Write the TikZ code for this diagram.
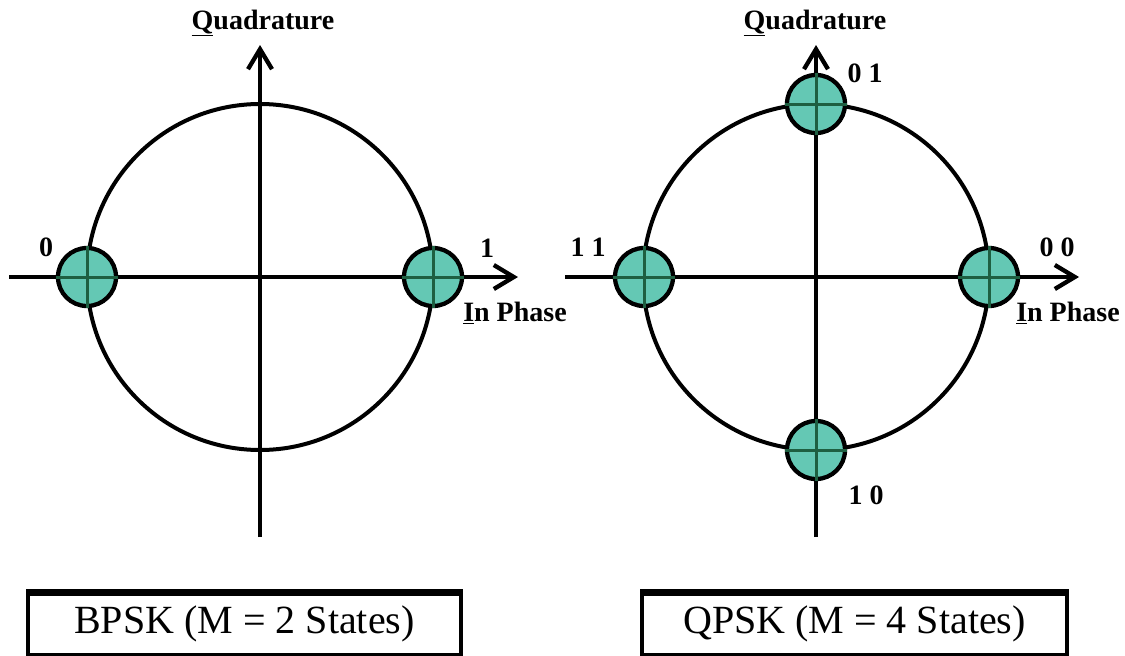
\documentclass[tikz,border=0pt]{standalone}
\usepackage{fontspec}
\setmainfont{Liberation Serif}
\usetikzlibrary{arrows.meta}
\definecolor{ptfill}{RGB}{100,200,180}
\definecolor{ptcross}{RGB}{30,95,65}
\begin{document}
\begin{tikzpicture}[x=1pt,y=-1pt,
  axis/.style={line width=4.3pt,-{Straight Barb[length=20pt,width=24pt,line width=4.3pt]}},
  ring/.style={line width=4pt},
  pt/.style={circle,draw=black,line width=4.3pt,fill=ptfill,minimum size=58pt,inner sep=0pt},
  crossline/.style={draw=ptcross,line width=3pt},
  lbl/.style={font=\fontsize{28}{30}\selectfont\bfseries,inner sep=0pt},
  titlebox/.style={draw,line width=4pt,minimum width=433pt,minimum height=61pt,inner sep=0pt,font=\fontsize{40}{44}\selectfont}]
\useasboundingbox (0,0) rectangle (1125,656);
\fill[white] (0,0) rectangle (1125,656);

% ---------- BPSK ----------
\coordinate (cL) at (260,277);
\coordinate (hLs) at (9,277);
\coordinate (hLe) at (518,277);
\coordinate (vLs) at (260,537);
\coordinate (vLe) at (260,45);
\draw[axis] (hLs) -- (hLe);
\draw[axis] (vLs) -- (vLe);
\draw[ring] (cL) circle[radius=173pt];
\node[pt] (pL0) at (87,277) {};
\node[pt] (pL1) at (433,277) {};
\foreach \p in {pL0,pL1}{
  \draw[crossline] (\p.north) -- (\p.south);
  \draw[crossline] (\p.west) -- (\p.east);
}
\node[lbl] (qL) at (263,23) {\underline{Q}uadrature};
\node[lbl] (iL) at (515,313) {\underline{I}n Phase};
\node[lbl] (l0) at (46,247) {0};
\node[lbl] (l1) at (487,248) {1};

% ---------- QPSK ----------
\coordinate (cR) at (816,277);
\coordinate (hRs) at (565,277);
\coordinate (hRe) at (1079,277);
\coordinate (vRs) at (816,537);
\coordinate (vRe) at (816,45);
\draw[axis] (hRs) -- (hRe);
\draw[axis] (vRs) -- (vRe);
\draw[ring] (cR) circle[radius=173pt];
\node[pt] (pR11) at (644,277) {};
\node[pt] (pR00) at (989,277) {};
\node[pt] (pR01) at (816,104) {};
\node[pt] (pR10) at (816,450) {};
\foreach \p in {pR11,pR00,pR01,pR10}{
  \draw[crossline] (\p.north) -- (\p.south);
  \draw[crossline] (\p.west) -- (\p.east);
}
\node[lbl] (qR) at (815,23) {\underline{Q}uadrature};
\node[lbl] (iR) at (1068,313) {\underline{I}n Phase};
\node[lbl] (l11) at (588,247) {1 1};
\node[lbl] (l00) at (1057,247) {0 0};
\node[lbl] (l01) at (865,73) {0 1};
\node[lbl] (l10) at (866,495) {1 0};

% ---------- title boxes ----------
\node[titlebox] (bL) at (244.5,624) {BPSK (M = 2 States)};
\node[titlebox,minimum width=425pt] (bR) at (854.5,624) {QPSK (M = 4 States)};
\draw[line width=6pt] (bL.north west) -- (bL.north east);
\draw[line width=6pt] (bR.north west) -- (bR.north east);
\end{tikzpicture}
\end{document}
